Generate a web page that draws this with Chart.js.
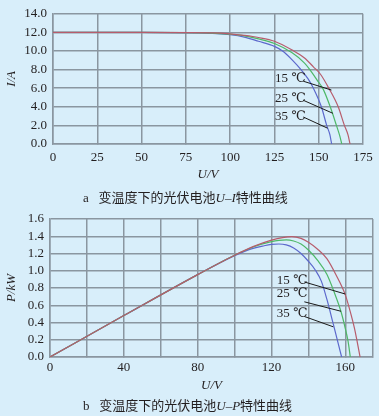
<!DOCTYPE html>
<html>
<head>
<meta charset="utf-8">
<script src="https://cdn.jsdelivr.net/npm/chart.js@4"></script>
<style>
  body { margin: 0; background: #d8eefa; width: 379px; height: 416px; overflow: hidden; }
  .box { position: absolute; left: 0; width: 379px; height: 190px; }
  .cap { position: absolute; left: 83px; font: 13px "Liberation Serif", "Noto Sans CJK SC", serif; color: #231f20; white-space: nowrap; }
  .cap .cn { font-family: "Noto Sans CJK SC", sans-serif; }
  .cap i { font-family: "Liberation Serif", serif; }
</style>
</head>
<body>
<div class="box" style="top:0"><canvas id="uiChart" width="379" height="190"></canvas></div>
<div class="cap" style="top:187px">a&nbsp;&nbsp;&nbsp;<span class="cn">变温度下的光伏电池</span><i>U</i>–<i>I</i><span class="cn">特性曲线</span></div>
<div class="box" style="top:205px"><canvas id="upChart" width="379" height="190"></canvas></div>
<div class="cap" style="top:395px">b&nbsp;&nbsp;&nbsp;<span class="cn">变温度下的光伏电池</span><i>U</i>–<i>P</i><span class="cn">特性曲线</span></div>

<script>
// temperatures
var temps = ['15 ℃', '25 ℃', '35 ℃'];
var colors = ['rgb(183,92,108)', 'rgb(78,184,104)', 'rgb(92,104,204)'];

// U-I curves (V, A)
var uiVoltage15 = [0, 50, 90, 100, 108, 116, 125, 135, 142, 147, 151, 156, 161, 164.5, 166.5, 167.7];
var uiCurrent15 = [12.0, 12.0, 11.95, 11.85, 11.68, 11.45, 11.05, 10.1, 9.25, 8.3, 7.5, 5.9, 4.0, 2.0, 1.0, 0];
var uiVoltage25 = [0, 50, 90, 100, 108, 116, 125, 135, 142, 145, 149, 152.5, 156.5, 160, 162, 163];
var uiCurrent25 = [12.0, 12.0, 11.93, 11.8, 11.63, 11.3, 10.8, 9.8, 8.7, 8.0, 6.9, 5.9, 4.0, 2.0, 0.8, 0];
var uiVoltage35 = [0, 50, 90, 100, 108, 116, 125, 130, 135, 140, 144, 147, 151.5, 154.5, 156.3, 157.3];
var uiCurrent35 = [12.0, 12.0, 11.9, 11.75, 11.5, 11.05, 10.5, 9.95, 9.05, 8.0, 7.0, 6.0, 4.0, 2.0, 1.0, 0];

// U-P curves (V, kW)
var upVoltage15 = [0, 40, 80, 100, 110, 120, 126, 131, 136, 140, 145, 150, 155, 160, 163, 165, 166.5, 168];
var upPower15 = [0, 0.48, 0.955, 1.18, 1.28, 1.355, 1.385, 1.395, 1.375, 1.33, 1.25, 1.14, 0.95, 0.72, 0.5, 0.33, 0.17, 0];
var upVoltage25 = [0, 40, 80, 100, 110, 120, 124, 128, 132, 136, 140, 145, 150, 154, 157.6, 160, 161.5, 162.7];
var upPower25 = [0, 0.48, 0.955, 1.18, 1.275, 1.337, 1.352, 1.357, 1.345, 1.31, 1.24, 1.12, 0.96, 0.75, 0.53, 0.33, 0.18, 0];
var upVoltage35 = [0, 40, 80, 100, 110, 116, 120, 124, 128, 132, 136, 140, 144, 147, 150, 153.5, 156, 158];
var upPower35 = [0, 0.48, 0.955, 1.175, 1.26, 1.29, 1.305, 1.31, 1.3, 1.265, 1.2, 1.11, 1.0, 0.88, 0.67, 0.38, 0.17, 0];

// axis ticks
var uiVoltageTicks = [0, 25, 50, 75, 100, 125, 150, 175];
var upVoltageTicks = [0, 20, 40, 60, 80, 100, 120, 140, 160, 175];
var upVoltageLabels = [0, 40, 80, 120, 160];

// label callouts, in data units: text anchor, leader start, leader end
var uiLabelAt = [[125.3, 7.0], [125.3, 4.9], [125.3, 2.9]];
var uiLeaderFrom = [[141.3, 6.75], [141.3, 4.7], [141.3, 2.9]];
var uiLeaderTo = [[157.2, 5.8], [158.0, 3.3], [155.0, 1.7]];
var upLabelAt = [[122.9, 0.89], [122.9, 0.73], [122.9, 0.5]];
var upLeaderFrom = [[137.8, 0.87], [137.8, 0.64], [137.8, 0.47]];
var upLeaderTo = [[160.0, 0.73], [157.7, 0.53], [153.5, 0.35]];

var serif = '"Liberation Serif", "DejaVu Serif", "Noto Sans CJK SC", serif';
var textColor = '#231f20';
var gridColor = 'rgb(138,150,160)';

function points(xs, ys) {
  return xs.map(function (x, i) { return { x: x, y: ys[i] }; });
}

function makeSets(pairs) {
  return pairs.map(function (p, i) {
    return {
      label: temps[i],
      data: points(p[0], p[1]),
      showLine: true,
      borderColor: colors[i],
      borderWidth: 1.2,
      pointRadius: 0,
      cubicInterpolationMode: 'monotone'
    };
  });
}

var callouts = {
  id: 'callouts',
  afterDatasetsDraw: function (chart, args, opts) {
    var ctx = chart.ctx, sx = chart.scales.x, sy = chart.scales.y;
    ctx.save();
    ctx.font = '13px ' + serif;
    ctx.fillStyle = textColor;
    ctx.textBaseline = 'middle';
    ctx.strokeStyle = '#1a1a1a';
    ctx.lineWidth = 1;
    for (var i = 0; i < temps.length; i++) {
      ctx.fillText(temps[i], sx.getPixelForValue(opts.at[i][0]), sy.getPixelForValue(opts.at[i][1]));
      ctx.beginPath();
      ctx.moveTo(sx.getPixelForValue(opts.from[i][0]), sy.getPixelForValue(opts.from[i][1]));
      ctx.lineTo(sx.getPixelForValue(opts.to[i][0]), sy.getPixelForValue(opts.to[i][1]));
      ctx.stroke();
    }
    ctx.restore();
  }
};

function makeChart(id, sets, cfg) {
  return new Chart(document.getElementById(id), {
    type: 'scatter',
    data: { datasets: sets },
    plugins: [callouts],
    options: {
      responsive: false,
      animation: false,
      layout: { padding: { top: cfg.top, right: cfg.right, left: 0, bottom: 0 } },
      plugins: {
        legend: { display: false },
        tooltip: { enabled: false },
        callouts: cfg.callouts
      },
      scales: {
        x: {
          min: 0, max: 175,
          afterFit: function (s) { s.height = cfg.xHeight; },
          afterBuildTicks: function (s) {
            s.ticks = cfg.xTicks.map(function (v) { return { value: v }; });
          },
          grid: { color: gridColor, lineWidth: 1.5, tickLength: 0 },
          border: { color: gridColor, width: 1.5 },
          ticks: {
            padding: cfg.xPad,
            color: textColor,
            font: { family: serif, size: 13 },
            maxRotation: 0,
            autoSkip: false,
            callback: function (v) { return cfg.xLabels.indexOf(v) >= 0 ? String(v) : ''; }
          },
          title: {
            display: true, text: 'U/V', color: textColor,
            font: { family: serif, size: 13, style: 'italic' },
            padding: { top: 0, bottom: cfg.xTitlePad }
          }
        },
        y: {
          min: 0, max: cfg.yMax,
          afterFit: function (s) { s.width = cfg.yWidth; },
          grid: { color: gridColor, lineWidth: 1.5, tickLength: 0 },
          border: { color: gridColor, width: 1.5 },
          ticks: {
            stepSize: cfg.yStep,
            padding: 6,
            autoSkip: false,
            color: textColor,
            font: { family: serif, size: 13 },
            callback: function (v) { return v.toFixed(1); }
          },
          title: {
            display: true, text: cfg.yTitle, color: textColor,
            font: { family: serif, size: 13, style: 'italic' },
            padding: { top: 4, bottom: 0 }
          }
        }
      }
    }
  });
}

makeChart('uiChart', makeSets([
  [uiVoltage15, uiCurrent15], [uiVoltage25, uiCurrent25], [uiVoltage35, uiCurrent35]
]), {
  top: 12, right: 16, xHeight: 46, yWidth: 53, xTicks: uiVoltageTicks, xLabels: uiVoltageTicks,
  xPad: 6, xTitlePad: 8, yMax: 14, yStep: 2, yTitle: 'I/A',
  callouts: { at: uiLabelAt, from: uiLeaderFrom, to: uiLeaderTo }
});

makeChart('upChart', makeSets([
  [upVoltage15, upPower15], [upVoltage25, upPower25], [upVoltage35, upPower35]
]), {
  top: 14, right: 6, xHeight: 38, yWidth: 50, xTicks: upVoltageTicks, xLabels: upVoltageLabels,
  xPad: 3, xTitlePad: 2, yMax: 1.6, yStep: 0.2, yTitle: 'P/kW',
  callouts: { at: upLabelAt, from: upLeaderFrom, to: upLeaderTo }
});
</script>
</body>
</html>
